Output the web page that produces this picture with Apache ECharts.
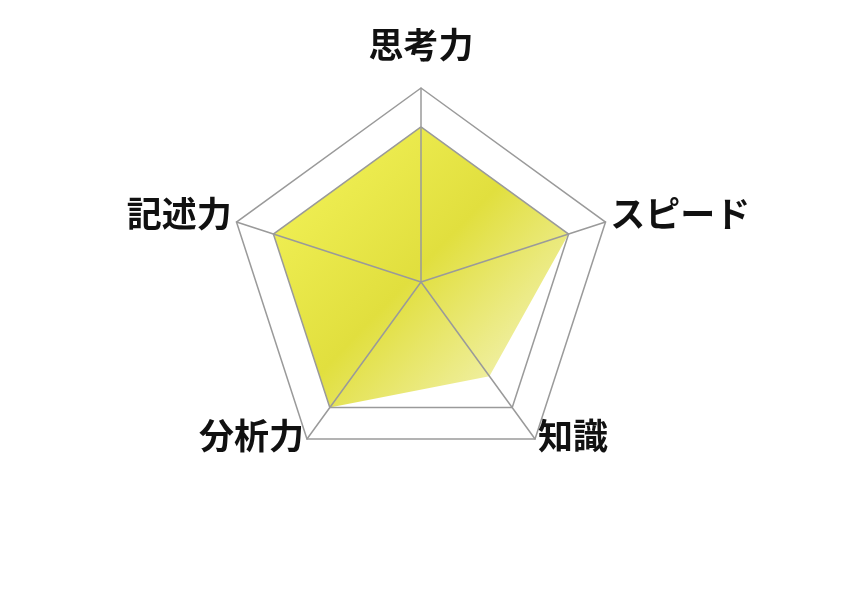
<!DOCTYPE html>
<html lang="ja">
<head>
    <meta charset="UTF-8">
    <title>Radar</title>
    <script src="https://cdn.jsdelivr.net/npm/echarts@6/dist/echarts.min.js"></script>
    <style type="text/css">
        html, body { margin: 0; padding: 0; background: #fff; }
        #main { width: 846px; height: 594px; }
    </style>
</head>
<body>
<div id="main"></div>
<script type="text/javascript">
    // indicators, listed counter-clockwise from the top
    var indicatorNames = ['思考力', '記述力', '分析力', '知識', 'スピード'];
    var indicatorMax = [100, 100, 100, 100, 100];
    var scores = [80, 80, 80, 60, 80];

    var chart = echarts.init(document.getElementById('main'));
    var labelFont = {
        color: '#111',
        fontSize: 35,
        fontWeight: 'bold',
        fontFamily: 'Noto Sans CJK JP'
    };
    var option = {
        backgroundColor: '#fff',
        radar: {
            z: 3,
            center: [421, 282],
            radius: 194,
            startAngle: 90,
            splitNumber: 5,
            shape: 'polygon',
            indicator: indicatorNames.map(function (n, i) {
                return { name: n, max: indicatorMax[i] };
            }),
            axisName: {
                formatter: function (name) {
                    // top label sits a bit further from the frame
                    return name === indicatorNames[0] ? '{top|' + name + '}' : '{side|' + name + '}';
                },
                rich: {
                    top: Object.assign({ padding: [0, 0, 21, 0] }, labelFont),
                    side: Object.assign({ padding: [0, 0, 14, 0] }, labelFont)
                }
            },
            nameGap: 5,
            splitArea: { show: false },
            axisLine: { lineStyle: { color: '#9a9a9a', width: 1.5 } },
            // only the 80 and 100 rings are visible
            splitLine: {
                lineStyle: {
                    color: ['rgba(0,0,0,0)', 'rgba(0,0,0,0)', 'rgba(0,0,0,0)', 'rgba(0,0,0,0)', '#9a9a9a', '#9a9a9a'],
                    width: 1.5
                }
            }
        },
        series: [{
            type: 'radar',
            symbol: 'none',
            silent: true,
            lineStyle: { width: 0 },
            areaStyle: {
                opacity: 1,
                color: new echarts.graphic.LinearGradient(0, 0, 1, 1, [
                    { offset: 0, color: '#f5f55c' },
                    { offset: 0.5, color: '#e1df3e' },
                    { offset: 1, color: '#f8f8d8' }
                ])
            },
            data: [{ value: scores, name: 'score' }]
        }]
    };
    chart.setOption(option);
</script>
</body>
</html>
